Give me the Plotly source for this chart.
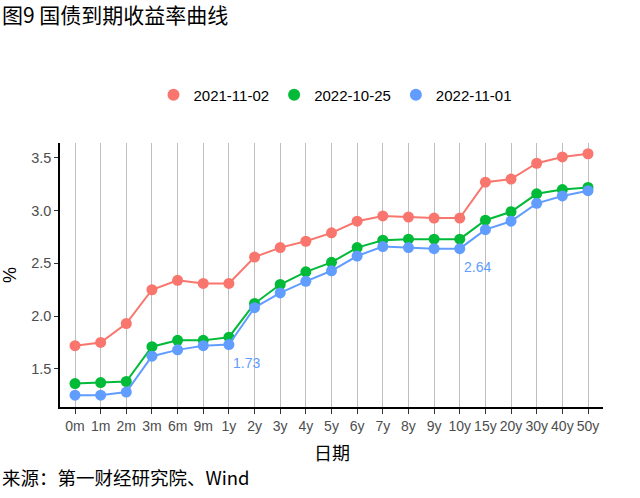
import plotly.graph_objects as go

categories = ["0m", "1m", "2m", "3m", "6m", "9m", "1y", "2y", "3y", "4y", "5y",
              "6y", "7y", "8y", "9y", "10y", "15y", "20y", "30y", "40y", "50y"]
series_names = ["2021-11-02", "2022-10-25", "2022-11-01"]
y_2021_11_02 = [1.72, 1.75, 1.93, 2.25, 2.34, 2.31, 2.31, 2.56, 2.65, 2.71, 2.79,
                2.90, 2.95, 2.94, 2.93, 2.93, 3.27, 3.30, 3.45, 3.51, 3.54]
y_2022_10_25 = [1.36, 1.37, 1.38, 1.71, 1.77, 1.77, 1.80, 2.12, 2.30, 2.42, 2.51,
                2.65, 2.72, 2.73, 2.73, 2.73, 2.91, 2.99, 3.16, 3.20, 3.22]
y_2022_11_01 = [1.25, 1.25, 1.28, 1.62, 1.68, 1.72, 1.73, 2.08, 2.22, 2.33, 2.43,
                2.57, 2.66, 2.65, 2.64, 2.64, 2.82, 2.90, 3.07, 3.14, 3.19]
colors = ["#F8766D", "#00BA38", "#619CFF"]
label_points = ["1y", "10y"]
ytick_vals = [1.5, 2.0, 2.5, 3.0, 3.5]
ytick_text = ["1.5", "2.0", "2.5", "3.0", "3.5"]

# plot-area geometry in pixels (for placing text outside the axes)
L, R, T, B = 60, 37, 143, 91
PW, PH = 640 - L - R, 498 - T - B
def px_x(x):
    return (x - L) / PW
def px_y(y):
    return (498 - B - y) / PH

x_idx = list(range(len(categories)))
fig = go.Figure()
for name, ys, c in zip(series_names, [y_2021_11_02, y_2022_10_25, y_2022_11_01], colors):
    fig.add_trace(go.Scatter(
        x=x_idx, y=ys, name=name, mode="lines+markers", showlegend=False,
        line=dict(color=c, width=2), marker=dict(color=c, size=11),
    ))
# legend entries: dots only
for name, c in zip(series_names, colors):
    fig.add_trace(go.Scatter(x=[None], y=[None], name=name, mode="markers",
                             marker=dict(color=c, size=11), showlegend=True))

for cat in label_points:
    i = categories.index(cat)
    fig.add_annotation(x=i, y=y_2022_11_01[i], text=f"{y_2022_11_01[i]:.2f}",
                       showarrow=False, xanchor="center", yanchor="top",
                       xshift=18, yshift=-8,
                       font=dict(color=colors[2], size=14, family="Liberation Sans"))

fig.update_layout(
    width=640, height=498,
    margin=dict(l=L, r=R, t=T, b=B, autoexpand=False),
    paper_bgcolor="white", plot_bgcolor="white",
    font=dict(family="Liberation Sans, Noto Sans CJK SC", color="#000000"),
    legend=dict(orientation="h", x=px_x(335), xanchor="center", y=px_y(95), yanchor="middle",
                font=dict(size=15, family="Liberation Sans", color="#000000"),
                itemsizing="constant", tracegroupgap=0),
    showlegend=True,
)
fig.update_xaxes(
    range=[-0.585, 20.585], tickmode="array", tickvals=x_idx, ticktext=categories,
    tickangle=0,
    showgrid=True, gridcolor="#BEBEBE", gridwidth=1.2,
    showline=True, linecolor="#000000", linewidth=1.5,
    ticks="outside", ticklen=5, tickcolor="#333333",
    tickfont=dict(size=14, family="Liberation Sans", color="#4D4D4D"),
    automargin=False, zeroline=False,
)
fig.update_yaxes(
    range=[1.138, 3.642], tickmode="array", tickvals=ytick_vals, ticktext=ytick_text,
    showgrid=False, showline=True, linecolor="#000000", linewidth=1.5,
    ticks="outside", ticklen=4, tickcolor="#333333",
    tickfont=dict(size=14.5, family="Liberation Sans", color="#4D4D4D"),
    automargin=False, zeroline=False,
)
# chart title
fig.add_annotation(x=px_x(0), xref="paper", xanchor="left", y=px_y(14), yref="paper",
                   yanchor="middle", text="图9 国债到期收益率曲线", showarrow=False,
                   font=dict(size=21, family="Noto Sans CJK SC", color="#000000"))
# axis titles
fig.add_annotation(x=0.5, xref="paper", xanchor="center", y=px_y(452), yref="paper",
                   yanchor="middle", text="日期", showarrow=False,
                   font=dict(size=18, family="Noto Sans CJK SC", color="#000000"))
fig.add_annotation(x=px_x(10), xref="paper", xanchor="center", y=0.5, yref="paper",
                   yanchor="middle", text="%", textangle=-90, showarrow=False,
                   font=dict(size=18, family="Liberation Sans", color="#000000"))
# source note
fig.add_annotation(x=px_x(0), xref="paper", xanchor="left", y=px_y(477), yref="paper",
                   yanchor="middle", text="来源：第一财经研究院、Wind", showarrow=False,
                   font=dict(size=18.5, family="Noto Sans CJK SC", color="#000000"))

fig.write_html("out.html", config={"displayModeBar": False},
               post_script="document.body.style.margin='0';")
